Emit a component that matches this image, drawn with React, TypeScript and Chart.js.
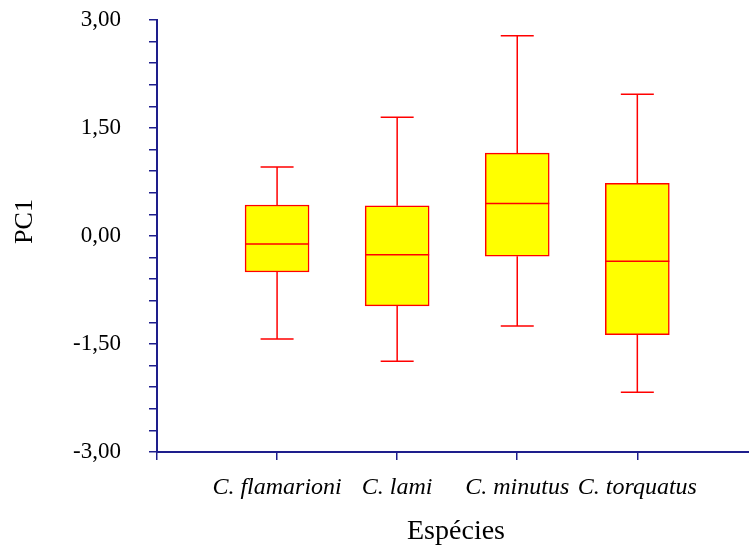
import React, { useEffect, useRef } from 'react';
import { Chart, registerables } from 'chart.js';

Chart.register(...registerables);

const categories = ['C. flamarioni', 'C. lami', 'C. minutus', 'C. torquatus'];
const whiskerLow = [-1.43, -1.74, -1.25, -2.17];
const quartile1 = [-0.5, -0.97, -0.28, -1.37];
const medians = [-0.11, -0.26, 0.45, -0.35];
const quartile3 = [0.43, 0.42, 1.15, 0.73];
const whiskerHigh = [0.96, 1.65, 2.78, 1.97];

const yTickValues = [
  -3.0, -2.7, -2.4, -2.1, -1.8, -1.5, -1.2, -0.9, -0.6, -0.3, 0.0,
  0.3, 0.6, 0.9, 1.2, 1.5, 1.8, 2.1, 2.4, 2.7, 3.0,
];
const yLabelValues = [-3.0, -1.5, 0.0, 1.5, 3.0];
const xTickValues = [0, 1, 2, 3, 4];

const yTitle = 'PC1';
const xTitle = 'Espécies';

const AXIS_COLOR = '#1e1e8c';
const BOX_STROKE = '#ff0000';
const BOX_FILL = '#ffff00';
const FONT = 'Liberation Serif, Times New Roman, serif';

const boxPlugin = {
  id: 'boxWhiskers',
  afterDatasetsDraw(chart: any) {
    const { ctx } = chart;
    const xs = chart.scales.x;
    const ys = chart.scales.y;
    const capHalf = 16.5;
    const boxHalf = 32;
    ctx.save();
    ctx.strokeStyle = BOX_STROKE;
    ctx.lineWidth = 1.5;
    categories.forEach((_, i) => {
      const cx = xs.getPixelForValue(i + 1);
      const yLo = ys.getPixelForValue(whiskerLow[i]);
      const yQ1 = ys.getPixelForValue(quartile1[i]);
      const yMed = ys.getPixelForValue(medians[i]);
      const yQ3 = ys.getPixelForValue(quartile3[i]);
      const yHi = ys.getPixelForValue(whiskerHigh[i]);
      ctx.beginPath();
      ctx.moveTo(cx, yHi);
      ctx.lineTo(cx, yQ3);
      ctx.moveTo(cx, yQ1);
      ctx.lineTo(cx, yLo);
      ctx.moveTo(cx - capHalf, yHi);
      ctx.lineTo(cx + capHalf, yHi);
      ctx.moveTo(cx - capHalf, yLo);
      ctx.lineTo(cx + capHalf, yLo);
      ctx.moveTo(cx - boxHalf, yMed);
      ctx.lineTo(cx + boxHalf, yMed);
      ctx.stroke();
    });
    ctx.restore();
  },
};

const titlePlugin = {
  id: 'axisTitles',
  afterDraw(chart: any) {
    const { ctx } = chart;
    ctx.save();
    ctx.fillStyle = '#000000';
    ctx.font = `28px ${FONT}`;
    ctx.textAlign = 'center';
    ctx.textBaseline = 'alphabetic';
    ctx.fillText(xTitle, 456, 539);
    ctx.font = `26px ${FONT}`;
    ctx.translate(32, 221.5);
    ctx.rotate(-Math.PI / 2);
    ctx.fillText(yTitle, 0, 0);
    ctx.restore();
  },
};

function formatTick(v: number): string {
  return v.toFixed(2).replace('.', ',');
}

export default function App() {
  const canvasRef = useRef<HTMLCanvasElement | null>(null);

  useEffect(() => {
    if (!canvasRef.current) return;
    const chart = new Chart(canvasRef.current, {
      type: 'bar',
      data: {
        datasets: [
          {
            label: 'PC1',
            data: categories.map((_, i) => ({ x: i + 1, y: [quartile1[i], quartile3[i]] })) as any,
            backgroundColor: BOX_FILL,
            borderColor: BOX_STROKE,
            borderWidth: 1.5,
            borderSkipped: false,
            barThickness: 64,
          },
        ],
      },
      options: {
        animation: false,
        responsive: true,
        maintainAspectRatio: false,
        layout: { padding: { top: 20, right: 0, bottom: 0, left: 0 } },
        plugins: {
          legend: { display: false },
          tooltip: { enabled: false },
        },
        scales: {
          x: {
            type: 'linear',
            offset: false,
            min: 0,
            max: 4.93,
            afterBuildTicks: (scale: any) => {
              scale.ticks = xTickValues.map((v) => ({ value: v }));
            },
            afterFit: (scale: any) => {
              scale.height = 97;
              scale.paddingLeft = 0;
              scale.paddingRight = 0;
            },
            ticks: {
              autoSkip: false,
              maxRotation: 0,
              padding: 13,
              color: '#000000',
              font: { family: FONT, size: 24, style: 'italic' },
              callback: (v: any) => categories[Number(v) - 1] ?? '',
            },
            grid: {
              offset: false,
              drawOnChartArea: false,
              drawTicks: true,
              tickLength: 8,
              color: AXIS_COLOR,
              lineWidth: 1.5,
            },
            border: { display: true, color: AXIS_COLOR, width: 2 },
          },
          y: {
            type: 'linear',
            min: -3,
            max: 3,
            afterBuildTicks: (scale: any) => {
              scale.ticks = yTickValues.map((v) => ({ value: v }));
            },
            afterFit: (scale: any) => {
              scale.width = 157;
              scale.paddingTop = 0;
              scale.paddingBottom = 0;
            },
            ticks: {
              autoSkip: false,
              padding: 28,
              color: '#000000',
              font: { family: FONT, size: 23 },
              callback: (v: any) => {
                const n = Number(v);
                return yLabelValues.some((l) => Math.abs(l - n) < 1e-6) ? formatTick(n) : '';
              },
            },
            grid: {
              drawOnChartArea: false,
              drawTicks: true,
              tickLength: 8,
              color: AXIS_COLOR,
              lineWidth: 1.5,
            },
            border: { display: true, color: AXIS_COLOR, width: 2 },
          },
        },
      } as any,
      plugins: [boxPlugin, titlePlugin],
    });
    return () => chart.destroy();
  }, []);

  return (
    <div style={{ position: 'fixed', left: 0, top: 0, width: 749, height: 549, background: '#ffffff' }}>
      <canvas ref={canvasRef} />
    </div>
  );
}
